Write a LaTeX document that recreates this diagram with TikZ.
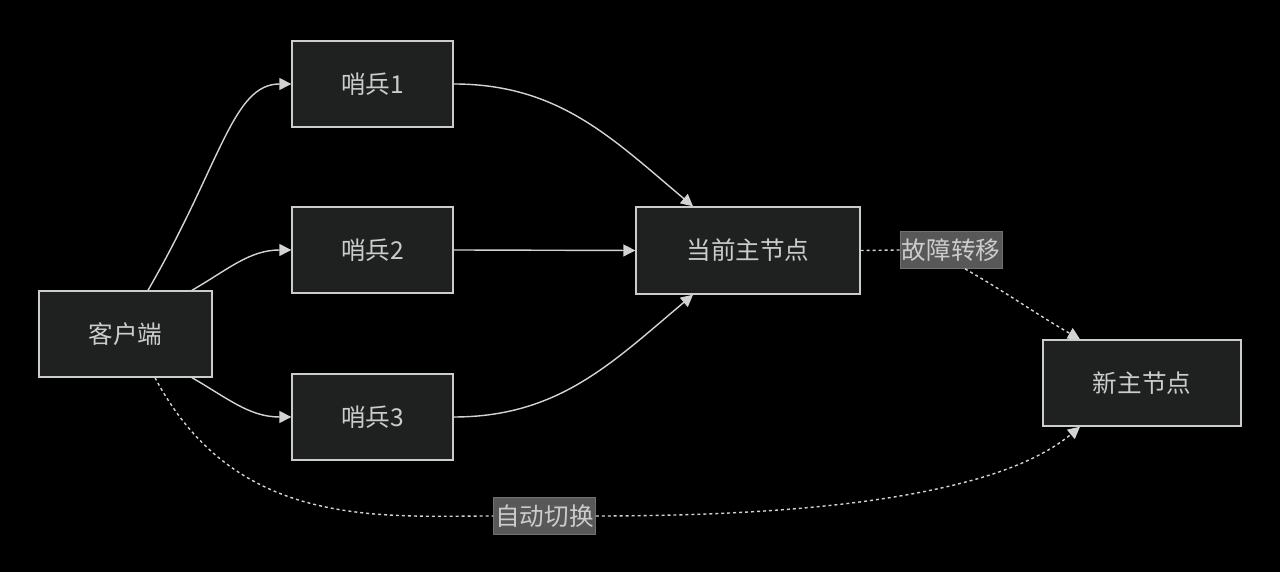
\documentclass[tikz,border=0pt]{standalone}
\usepackage{fontspec}
\setmainfont{Noto Sans CJK SC}
\usetikzlibrary{arrows.meta}
\definecolor{nodefill}{HTML}{1F2020}
\definecolor{nodeline}{HTML}{CCCCCC}
\definecolor{edgecol}{HTML}{D3D3D3}
\definecolor{lblfill}{HTML}{585858}

\begin{document}
\begin{tikzpicture}[>={Triangle[length=2.4mm,width=2.4mm]},
  box/.style={draw=nodeline,fill=nodefill,line width=0.8pt,text=nodeline,minimum height=1.72cm,inner sep=0pt,font=\fontsize{14pt}{16pt}\selectfont},
  lbl/.style={draw=lblfill!85!white,fill=lblfill,text=nodeline,minimum height=0.74cm,inner xsep=1pt,inner ysep=0pt,font=\fontsize{14pt}{16pt}\selectfont},
  link/.style={->,draw=edgecol,line width=0.8pt},
  dlink/.style={link,dash pattern=on 1.7pt off 1.7pt}]
  \fill[black] (0,0) rectangle (25.6,11.44);
  \useasboundingbox (0,0) rectangle (25.6,11.44);
  % nodes
  \node[box,minimum width=3.46cm] (client) at (2.51,4.76) {客户端};
  \node[box,minimum width=3.22cm] (s1) at (7.45,9.76) {哨兵1};
  \node[box,minimum width=3.22cm] (s2) at (7.45,6.44) {哨兵2};
  \node[box,minimum width=3.22cm] (s3) at (7.45,3.10) {哨兵3};
  \node[box,minimum width=4.48cm,minimum height=1.74cm] (master) at (14.96,6.43) {当前主节点};
  \node[box,minimum width=3.96cm] (newmaster) at (22.84,3.78) {新主节点};
  \node[lbl] (failover) at (19.02,6.44) {故障转移};
  \node[lbl] (autoswitch) at (10.89,1.12) {自动切换};
  % sentinels
  \draw[link] ([xshift=0.45cm]client.north) to[out=60,in=180,out looseness=1.5,in looseness=0.6] (s1.west);
  \draw[link] ([xshift=1.33cm]client.north) to[out=30,in=180] (s2.west);
  \draw[link] ([xshift=1.33cm]client.south) to[out=-30,in=180] (s3.west);
  \draw[link] (s1.east) to[out=0,in=140] ([xshift=-1.1cm]master.north);
  \draw[link] (s2.east) -- (master.west);
  \draw[link] (s3.east) to[out=0,in=-140] ([xshift=-1.1cm]master.south);
  % failover
  \draw[dlink,-] (master.east) -- (failover.west);
  \draw[dlink] ([xshift=0.28cm]failover.south) to[out=-30,in=150] ([xshift=-1.24cm]newmaster.north);
  \draw[dlink,-] ([xshift=0.59cm]client.south) to[out=-62,in=180,out looseness=1.2,in looseness=0.8] (autoswitch.west);
  \draw[dlink] (autoswitch.east) to[out=0,in=-140,out looseness=1.3,in looseness=0.5] ([xshift=-1.24cm]newmaster.south);
\end{tikzpicture}
\end{document}
